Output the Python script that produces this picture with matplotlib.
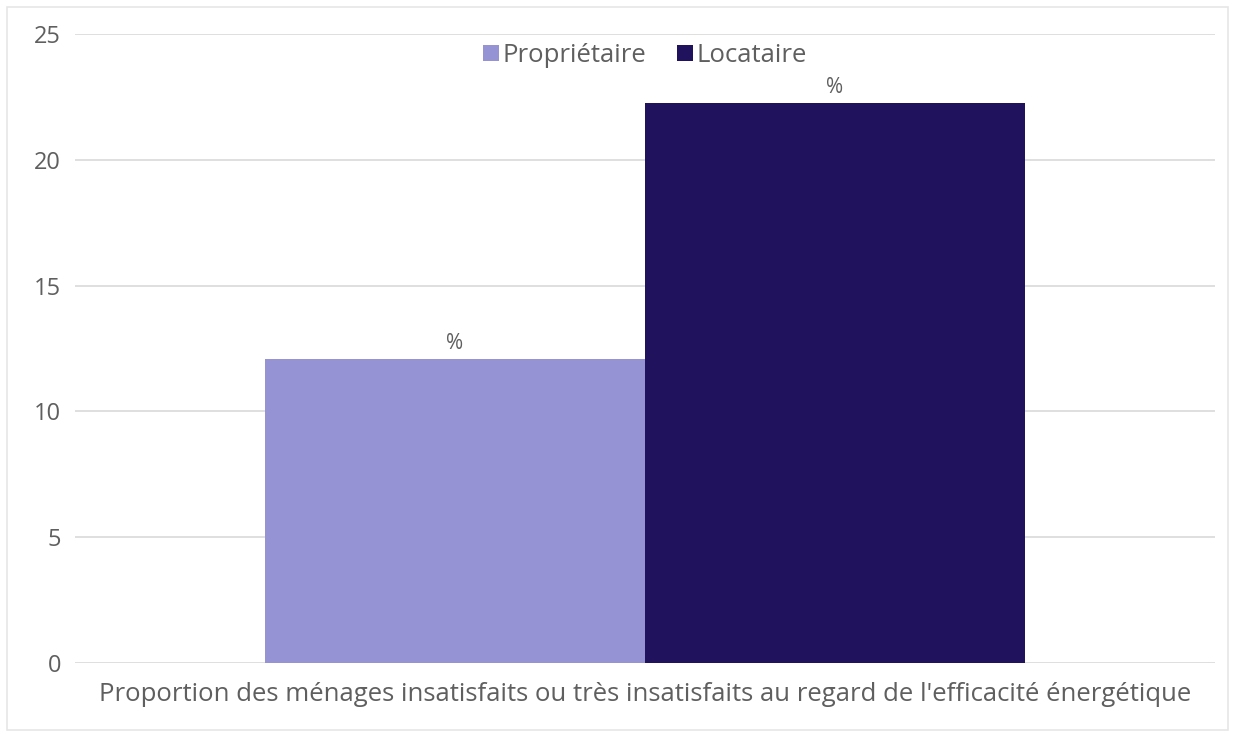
import matplotlib
matplotlib.use("Agg")
import matplotlib.pyplot as plt
from matplotlib.patches import Rectangle

# Données
categorie = "Proportion des ménages insatisfaits ou très insatisfaits au regard de l'efficacité énergétique"
series = ["Propriétaire", "Locataire"]
valeurs = [12.1, 22.25]
etiquettes = ["%", "%"]
couleurs = ["#9593d3", "#20125d"]
yticks = [0, 5, 10, 15, 20, 25]

plt.rcParams["font.family"] = ["Open Sans", "DejaVu Sans"]
GRIS = "#5f5f5f"

fig = plt.figure(figsize=(12.35, 7.34), dpi=100)
fig.patches.append(Rectangle((0.006, 0.006), 0.988, 0.985, transform=fig.transFigure,
                             fill=False, edgecolor="#e6e6e6", linewidth=1.2))
ax = fig.add_axes([75 / 1235, 1 - 663 / 734, 1140 / 1235, 629 / 734])

largeur = 1 / 3
pos = [-largeur / 2, largeur / 2]
barres = ax.bar(pos, valeurs, width=largeur, color=couleurs, label=series, zorder=3)
for b, t in zip(barres, etiquettes):
    ax.text(b.get_x() + b.get_width() / 2, b.get_height() + 0.2, t,
            ha="center", va="bottom", fontsize=15, color=GRIS)

ax.set_xlim(-0.5, 0.5)
ax.set_ylim(0, 25)
ax.set_yticks(yticks)
ax.set_yticklabels([str(v) for v in yticks], fontsize=17, color=GRIS)
ax.tick_params(axis="y", length=0, pad=10)
ax.set_xticks([0])
ax.set_xticklabels([categorie], fontsize=18.5, color=GRIS)
ax.tick_params(axis="x", length=0, pad=14)
ax.grid(axis="y", color="#d9d9d9", linewidth=1.2, zorder=0)
for s in ax.spines.values():
    s.set_visible(False)

ax.legend(barres, series, loc="center", bbox_to_anchor=(0.5, 0.966), ncol=2,
          frameon=False, fontsize=18.5, labelcolor=GRIS, handlelength=0.6,
          handleheight=0.6, handletextpad=0.15, columnspacing=1.2,
          borderpad=0, borderaxespad=0)

fig.savefig("out.png", dpi=100)
